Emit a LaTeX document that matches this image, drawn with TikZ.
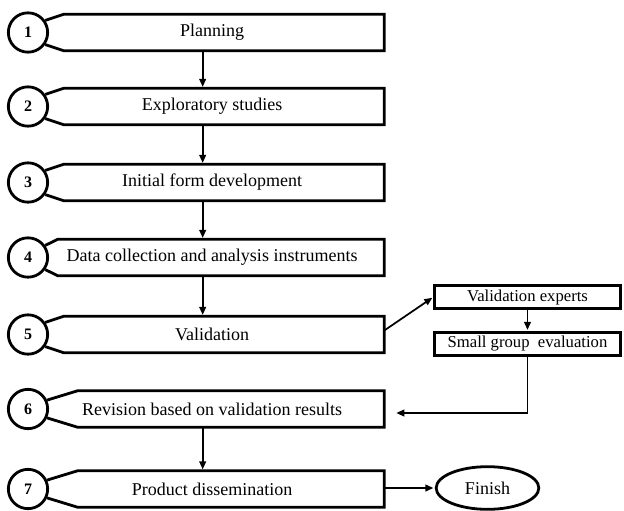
\documentclass[tikz,border=0pt]{standalone}
\usepackage{fontspec}
\setmainfont{Liberation Serif}
\usetikzlibrary{shapes.geometric,arrows.meta}

\begin{document}
\begin{tikzpicture}[
    x=0.75pt, y=-0.75pt,
    num_node/.style={circle, draw, line width=2.1pt, minimum size=29.5pt, inner sep=0pt, font=\fontsize{12}{14}\selectfont\bfseries},
    step_node/.style={rectangle, minimum width=258pt, minimum height=27pt, inner sep=0pt, font=\fontsize{13.5}{16}\selectfont},
    side_node/.style={rectangle, draw, line width=2.1pt, minimum width=139pt, minimum height=17pt, inner sep=0pt, font=\fontsize{12.5}{15}\selectfont},
    end_node/.style={ellipse, draw, line width=2.1pt, minimum width=77pt, minimum height=32pt, inner sep=0pt, font=\fontsize{13.5}{16}\selectfont},
    outline/.style={line width=2.1pt, line join=miter},
    directed/.style={-{Triangle[length=6pt,width=5pt]}, line width=1.3pt}
]
    \useasboundingbox (0,0) rectangle (624,510);

        \node[num_node] (n1) at (28,32.5) {1};
        \node[num_node] (n2) at (28,106.5) {2};
        \node[num_node] (n3) at (28,182.5) {3};
        \node[num_node] (n4) at (28,257.5) {4};
        \node[num_node] (n5) at (28,334.5) {5};
        \node[num_node] (n6) at (28,409) {6};
        \node[num_node] (n7) at (28,489) {7};

        \node[step_node] (b1) at (212,32.5) {Planning};
        \node[step_node] (b2) at (212,106.5) {Exploratory studies};
        \node[step_node] (b3) at (212,182.5) {Initial form development};
        \node[step_node] (b4) at (212,257.5) {Data collection and analysis instruments};
        \node[step_node] (b5) at (212,334.5) {Validation};
        \node[step_node] (b6) at (212,409) {Revision based on validation results};
        \node[step_node] (b7) at (212,489) {Product dissemination};

        \node[side_node] (ve) at (527.5,297) {Validation experts};
        \node[side_node] (sg) at (527.5,344) {Small group\ \ evaluation};
        \node[end_node] (fin) at (487.5,488) {Finish};

    % step outlines joined to the number circles
    \foreach \i/\s/\a in {1/18/35, 2/18/35, 3/18/35, 4/13.5/35, 5/18/35, 6/28.5/25, 7/28.5/25}
        \draw[outline] (n\i.\a) -- ([xshift=\s pt]b\i.north west) -- (b\i.north east)
            -- (b\i.south east) -- ([xshift=\s pt]b\i.south west) -- (n\i.-\a);

    \foreach \a/\b in {b1/b2, b2/b3, b3/b4, b4/b5, b6/b7}
        \draw[directed, shorten >=1pt] ([xshift=-7pt]\a.south) -- ([xshift=-7pt]\b.north);
    \draw[directed, shorten >=1pt] ([yshift=3pt]b5.east) -- (ve.west);
    \draw[directed, shorten >=1pt] (ve.south) -- (sg.north);
    \draw[directed, shorten >=9pt] (sg.south) |- ([yshift=-3pt]b6.east);
    \draw[directed, shorten >=1pt] ([yshift=0.75pt]b7.east) -- (fin.west);

    \end{tikzpicture}
\end{document}
